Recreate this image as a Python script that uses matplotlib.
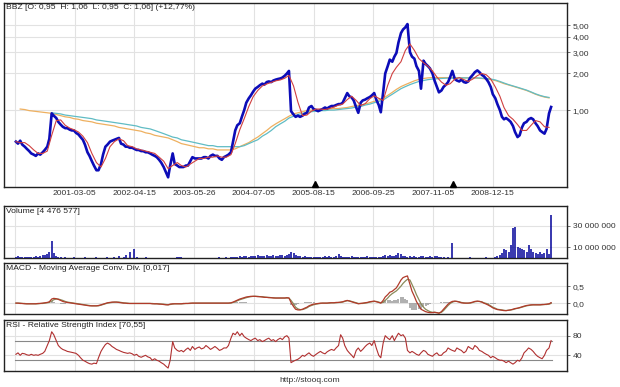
import numpy as np
import pandas as pd
import matplotlib
matplotlib.use("Agg")
import matplotlib.pyplot as plt
import matplotlib.dates as mdates
from matplotlib.ticker import FixedLocator, NullLocator

plt.rcParams['font.family'] = ['Liberation Sans', 'DejaVu Sans']

# ---------------- data ----------------
# semi-monthly sampling 2000-02-01 .. 2010-01-15 (240 points)
price = [
    # 2000 (Feb..Dec)
    0.55, 0.53, 0.56, 0.52, 0.50, 0.48, 0.46, 0.44, 0.43, 0.42, 0.44, 0.43, 0.45, 0.47, 0.50, 0.58,
    0.94, 0.90, 0.86, 0.80, 0.76, 0.73,
    # 2001
    0.71, 0.71, 0.69, 0.68, 0.68, 0.65, 0.63, 0.60, 0.57, 0.52, 0.45, 0.42,
    0.38, 0.35, 0.32, 0.32, 0.36, 0.43, 0.50, 0.52, 0.55, 0.56, 0.57, 0.58,
    # 2002
    0.59, 0.53, 0.52, 0.50, 0.50, 0.49, 0.49, 0.48, 0.47, 0.47, 0.46, 0.46,
    0.45, 0.45, 0.44, 0.43, 0.42, 0.41, 0.39, 0.37, 0.34, 0.31, 0.28, 0.35,
    # 2003
    0.44, 0.36, 0.35, 0.34, 0.34, 0.34, 0.35, 0.35, 0.38, 0.41, 0.40, 0.40,
    0.40, 0.40, 0.41, 0.41, 0.40, 0.42, 0.43, 0.42, 0.42, 0.40, 0.39, 0.41,
    # 2004
    0.42, 0.43, 0.45, 0.55, 0.68, 0.75, 0.78, 0.88, 1.00, 1.15, 1.25, 1.32,
    1.42, 1.50, 1.55, 1.60, 1.65, 1.62, 1.70, 1.72, 1.70, 1.75, 1.78, 1.80,
    # 2005
    1.82, 1.85, 1.92, 2.00, 2.10, 0.98, 0.92, 0.88, 0.90, 0.88, 0.90, 0.93,
    0.95, 1.05, 1.08, 1.02, 1.00, 0.98, 1.00, 1.02, 1.05, 1.03, 1.06, 1.08,
    # 2006
    1.08, 1.10, 1.12, 1.12, 1.15, 1.25, 1.38, 1.30, 1.27, 1.20, 1.05, 0.95,
    1.15, 1.20, 1.22, 1.25, 1.28, 1.32, 1.38, 1.22, 1.10, 0.96, 1.40, 2.00,
    # 2007
    2.30, 2.60, 2.50, 2.75, 2.95, 3.60, 4.30, 4.60, 4.80, 5.10, 3.00, 2.75,
    2.65, 2.30, 2.10, 1.50, 2.55, 2.40, 2.30, 2.20, 2.00, 1.75, 1.55, 1.40,
    # 2008
    1.45, 1.55, 1.62, 1.70, 1.88, 2.10, 1.80, 1.75, 1.72, 1.78, 1.70, 1.68,
    1.72, 1.85, 1.95, 2.05, 2.12, 2.05, 1.95, 1.90, 1.80, 1.70, 1.55, 1.35,
    # 2009
    1.25, 1.12, 1.00, 0.88, 0.84, 0.86, 0.83, 0.80, 0.74, 0.66, 0.60, 0.62,
    0.72, 0.78, 0.80, 0.84, 0.86, 0.84, 0.78, 0.74, 0.68, 0.66, 0.64, 0.70,
    # 2010
    0.94, 1.06,
]

volume_m = [
    1, 1.5, 1, 1, 1.2, 1, 0.8, 1, 1, 1.5, 1, 2, 2.5, 3, 4, 6, 16, 5, 2, 1, 0.5, 0.3,
    0.5, 0, 0.3, 0, 0.5, 0, 0.3, 0, 0, 0.5, 0, 0.3, 0, 0, 0.5, 0, 0, 0, 0, 0.5, 0, 0, 1, 0,
    2, 0, 1, 3, 0, 6, 0, 8, 1, 0, 0, 0, 0.5, 0, 0, 0, 0, 0, 0, 0, 0, 0, 0, 0,
    0, 0, 0.5, 1, 0.5, 0, 0, 0, 0, 0, 0, 0, 0, 0, 0.3, 0, 0, 0, 0, 0, 0, 0.5, 0, 0,
    0.5, 0, 1, 0.5, 1, 0.5, 2, 1, 1.5, 2, 1, 2, 1.5, 2, 3, 2, 1.5, 2, 2.5, 2, 1.5, 3, 2, 2,
    2.5, 3, 2, 3, 4, 6, 5, 3, 2, 1.5, 1, 1.5, 1, 1, 0.5, 1, 1, 1, 1, 1, 1.5, 1, 1.5, 1,
    1, 1.5, 4, 2, 1, 1, 0.5, 1, 1.5, 1, 0.5, 1, 0.5, 1, 1, 1.5, 1, 0.5, 1, 1, 0.5, 1, 2, 3,
    2, 3, 2, 1.5, 3, 5, 4, 2, 1.5, 1, 2, 1, 1.5, 1, 1, 1.5, 2, 1, 1, 1.5, 1, 2, 1.5, 1,
    1, 0.5, 0, 1, 0, 14, 0, 0, 0, 0, 0, 0, 0, 0.5, 0, 0, 0, 0, 0, 0, 0.5, 0, 0, 0,
    1, 2, 3, 5, 8, 7, 6, 12, 28, 29, 10, 9, 8, 7, 6, 12, 8, 6, 5, 4, 6, 4, 5, 8,
    4, 40,
]

macd_line = [
    0, 0, -0.01, -0.01, -0.02, -0.02, -0.02, -0.02, -0.02, -0.02, -0.01, -0.01, 0, 0.01, 0.02, 0.04,
    0.12, 0.14, 0.13, 0.11, 0.08, 0.05,
    0.03, 0.02, 0.01, 0, -0.01, -0.02, -0.03, -0.04, -0.05, -0.06, -0.07, -0.08,
    -0.08, -0.08, -0.08, -0.07, -0.05, -0.03, -0.01, 0.01, 0.02, 0.03, 0.03, 0.03,
    0.02, 0.01, 0, 0, -0.01, -0.01, -0.01, -0.01, -0.01, -0.01, -0.01, -0.01,
    -0.01, -0.01, -0.01, -0.02, -0.02, -0.02, -0.03, -0.03, -0.04, -0.05, -0.05, -0.03,
    -0.02, -0.02, -0.02, -0.02, -0.02, -0.01, -0.01, -0.01, 0, 0, 0, 0,
    0, 0, 0, 0, 0, 0, 0, 0, 0, 0, 0, 0,
    0, 0, 0.01, 0.03, 0.06, 0.09, 0.12, 0.14, 0.16, 0.18, 0.19, 0.20,
    0.20, 0.20, 0.19, 0.19, 0.18, 0.17, 0.17, 0.16, 0.16, 0.15, 0.15, 0.15,
    0.15, 0.15, 0.15, 0.16, 0.15, 0.02, -0.10, -0.18, -0.20, -0.20, -0.18, -0.15,
    -0.12, -0.08, -0.05, -0.03, -0.02, -0.01, 0, 0, 0, 0, 0.01, 0.01,
    0.01, 0.02, 0.02, 0.03, 0.04, 0.06, 0.08, 0.06, 0.04, 0.02, 0, -0.02,
    -0.01, 0, 0.01, 0.02, 0.04, 0.05, 0.06, 0.04, 0.02, 0, 0.08, 0.18,
    0.25, 0.32, 0.35, 0.40, 0.45, 0.55, 0.68, 0.75, 0.78, 0.80, 0.55, 0.35,
    0.20, 0.05, -0.08, -0.18, -0.22, -0.25, -0.27, -0.28, -0.28, -0.27, -0.28, -0.30,
    -0.25, -0.18, -0.10, -0.03, 0.02, 0.05, 0.06, 0.05, 0.03, 0.01, 0, 0,
    0, 0.01, 0.03, 0.05, 0.06, 0.05, 0.03, 0, -0.03, -0.06, -0.10, -0.14,
    -0.17, -0.19, -0.20, -0.21, -0.22, -0.22, -0.21, -0.20, -0.18, -0.16, -0.15, -0.13,
    -0.11, -0.09, -0.07, -0.06, -0.05, -0.05, -0.05, -0.05, -0.05, -0.04, -0.04, -0.03,
    -0.02, 0.01,
]

signal_line = [
    0, 0, 0, -0.01, -0.01, -0.02, -0.02, -0.02, -0.02, -0.02, -0.02, -0.01, -0.01, 0, 0.01, 0.02,
    0.06, 0.10, 0.12, 0.12, 0.10, 0.08,
    0.05, 0.03, 0.02, 0.01, 0, -0.01, -0.02, -0.03, -0.04, -0.05, -0.06, -0.07,
    -0.08, -0.08, -0.08, -0.08, -0.06, -0.04, -0.02, 0, 0.01, 0.02, 0.03, 0.03,
    0.03, 0.02, 0.01, 0, 0, -0.01, -0.01, -0.01, -0.01, -0.01, -0.01, -0.01,
    -0.01, -0.01, -0.01, -0.01, -0.02, -0.02, -0.02, -0.03, -0.03, -0.04, -0.05, -0.04,
    -0.03, -0.02, -0.02, -0.02, -0.02, -0.02, -0.01, -0.01, -0.01, 0, 0, 0,
    0, 0, 0, 0, 0, 0, 0, 0, 0, 0, 0, 0,
    0, 0, 0, 0.02, 0.04, 0.07, 0.10, 0.12, 0.14, 0.16, 0.18, 0.19,
    0.20, 0.20, 0.20, 0.19, 0.19, 0.18, 0.17, 0.17, 0.16, 0.16, 0.15, 0.15,
    0.15, 0.15, 0.15, 0.15, 0.15, 0.08, -0.02, -0.12, -0.17, -0.19, -0.19, -0.17,
    -0.14, -0.10, -0.07, -0.05, -0.03, -0.02, -0.01, 0, 0, 0, 0, 0.01,
    0.01, 0.01, 0.02, 0.02, 0.03, 0.05, 0.07, 0.07, 0.05, 0.03, 0.01, -0.01,
    -0.01, -0.01, 0, 0.01, 0.03, 0.04, 0.05, 0.05, 0.03, 0.01, 0.02, 0.08,
    0.15, 0.22, 0.28, 0.32, 0.36, 0.42, 0.50, 0.58, 0.65, 0.70, 0.68, 0.55,
    0.40, 0.25, 0.10, -0.02, -0.12, -0.18, -0.22, -0.25, -0.27, -0.27, -0.28, -0.29,
    -0.27, -0.22, -0.14, -0.07, -0.01, 0.03, 0.05, 0.05, 0.04, 0.02, 0.01, 0,
    0, 0, 0.02, 0.04, 0.05, 0.05, 0.04, 0.01, -0.01, -0.04, -0.08, -0.12,
    -0.15, -0.18, -0.19, -0.20, -0.21, -0.22, -0.21, -0.20, -0.19, -0.17, -0.15, -0.14,
    -0.12, -0.10, -0.08, -0.07, -0.06, -0.05, -0.05, -0.05, -0.05, -0.05, -0.04, -0.04,
    -0.03, -0.01,
]

rsi = [
    42, 45, 40, 44, 43, 41, 40, 42, 40, 41, 40, 42, 44, 48, 60, 70, 88, 82, 70, 60, 55, 52,
    50, 48, 47, 46, 45, 44, 40, 35, 30, 28, 25, 23, 22, 24, 23, 35, 48, 55, 62, 65, 62, 58, 55, 52,
    50, 48, 46, 45, 44, 45, 43, 40, 42, 38, 36, 38, 40, 37, 35, 30, 33, 30, 28, 25, 22, 18, 14, 30,
    68, 55, 50, 48, 50, 47, 52, 55, 50, 58, 52, 55, 57, 53, 55, 60, 56, 52, 55, 58, 54, 50, 52, 55,
    55, 60, 75, 85, 82, 88, 80, 85, 78, 75, 72, 70, 73, 75, 70, 72, 68, 70, 73, 75, 70, 72, 68, 72,
    75, 72, 78, 80, 75, 25, 28, 30, 32, 35, 40, 38, 42, 45, 40, 38, 42, 45, 48, 45, 43, 47, 50, 52,
    50, 55, 60, 82, 75, 60, 50, 45, 40, 35, 50, 55, 48, 52, 58, 62, 65, 60, 70, 55, 40, 35, 65, 80,
    75, 72, 80, 70, 78, 85, 80, 82, 75, 50, 45, 48, 45, 42, 40, 45, 50, 48, 42, 40, 38, 42, 45, 40,
    40, 45, 48, 55, 52, 50, 48, 55, 52, 50, 45, 48, 58, 55, 52, 60, 56, 50, 48, 45, 42, 40, 35, 38,
    35, 32, 30, 30, 28, 25, 28, 25, 22, 25, 30, 28, 35, 45, 50, 55, 52, 48, 42, 38, 35, 33, 40, 50,
    55, 70,
]

# monthly sampling 2000-02-01 .. 2010-01-01 (120 points)
ma_short = [
    0.55, 0.54, 0.54, 0.51, 0.47, 0.44, 0.44, 0.46, 0.62, 0.82, 0.83,
    0.75, 0.71, 0.69, 0.66, 0.61, 0.54, 0.44, 0.37, 0.34, 0.40, 0.50, 0.55,
    0.58, 0.56, 0.51, 0.50, 0.48, 0.47, 0.46, 0.45, 0.44, 0.41, 0.38, 0.33,
    0.35, 0.37, 0.35, 0.34, 0.36, 0.38, 0.40, 0.40, 0.41, 0.41, 0.42, 0.41,
    0.41, 0.43, 0.53, 0.69, 0.85, 1.07, 1.29, 1.45, 1.58, 1.64, 1.69, 1.74,
    1.77, 1.83, 1.93, 1.58, 1.16, 0.90, 0.91, 0.98, 1.02, 1.02, 1.01, 1.03,
    1.06, 1.10, 1.12, 1.22, 1.30, 1.20, 1.09, 1.13, 1.24, 1.31, 1.25, 1.20,
    1.60, 2.00, 2.25, 2.50, 3.10, 3.50, 3.10, 2.65, 2.45, 2.30, 2.10, 1.87,
    1.70, 1.60, 1.65, 1.80, 1.85, 1.78, 1.72, 1.80, 1.92, 2.00, 1.95, 1.80,
    1.55, 1.30, 1.05, 0.90, 0.84, 0.76, 0.68, 0.68, 0.75, 0.82, 0.80, 0.73,
    0.72,
]

ma_long_a = [  # orange
    np.nan, 1.02, 1.01, 0.99, 0.98, 0.97, 0.96, 0.95, 0.94, 0.92, 0.90,
    0.88, 0.87, 0.85, 0.84, 0.82, 0.81, 0.80, 0.78, 0.77, 0.76, 0.75, 0.74,
    0.72, 0.71, 0.70, 0.69, 0.68, 0.67, 0.65, 0.64, 0.62, 0.61, 0.60, 0.59,
    0.57, 0.55, 0.53, 0.52, 0.51, 0.50, 0.49, 0.49, 0.48, 0.48, 0.47, 0.47,
    0.47, 0.47, 0.48, 0.50, 0.52, 0.54, 0.57, 0.60, 0.64, 0.68, 0.73, 0.77,
    0.81, 0.85, 0.89, 0.93, 0.95, 0.97, 0.99, 1.00, 1.00, 1.01, 1.01, 1.02,
    1.03, 1.03, 1.04, 1.05, 1.07, 1.09, 1.10, 1.12, 1.15, 1.18, 1.21, 1.25,
    1.32, 1.40, 1.48, 1.56, 1.62, 1.68, 1.74, 1.79, 1.82, 1.84, 1.85, 1.85,
    1.85, 1.85, 1.85, 1.85, 1.85, 1.84, 1.84, 1.84, 1.83, 1.82, 1.80, 1.78,
    1.75, 1.70, 1.65, 1.61, 1.57, 1.53, 1.49, 1.45, 1.40, 1.35, 1.31, 1.28,
    1.26,
]

ma_long_b = [  # teal
    np.nan, np.nan, np.nan, np.nan, np.nan, np.nan, np.nan, np.nan, 0.95, 0.94, 0.93,
    0.91, 0.90, 0.89, 0.88, 0.87, 0.86, 0.85, 0.83, 0.82, 0.81, 0.80, 0.79,
    0.78, 0.77, 0.76, 0.75, 0.74, 0.72, 0.71, 0.70, 0.68, 0.66, 0.64, 0.62,
    0.60, 0.59, 0.57, 0.56, 0.55, 0.54, 0.53, 0.52, 0.51, 0.51, 0.50, 0.50,
    0.50, 0.50, 0.50, 0.50, 0.51, 0.53, 0.55, 0.57, 0.61, 0.64, 0.68, 0.73,
    0.77, 0.81, 0.86, 0.89, 0.92, 0.94, 0.96, 0.97, 0.98, 0.99, 0.99, 1.00,
    1.00, 1.01, 1.02, 1.03, 1.04, 1.06, 1.07, 1.10, 1.12, 1.15, 1.18, 1.21,
    1.28, 1.35, 1.42, 1.50, 1.56, 1.62, 1.67, 1.72, 1.75, 1.78, 1.80, 1.81,
    1.82, 1.83, 1.83, 1.83, 1.84, 1.84, 1.84, 1.84, 1.84, 1.83, 1.82, 1.80,
    1.77, 1.72, 1.67, 1.62, 1.58, 1.54, 1.50, 1.46, 1.41, 1.36, 1.32, 1.29,
    1.27,
]

tick_dates = ['2000-01-24', '2001-03-05', '2002-04-15', '2003-05-26', '2004-07-05',
              '2005-08-15', '2006-09-25', '2007-11-05', '2008-12-15']
tick_labels = ['', '2001-03-05', '2002-04-15', '2003-05-26', '2004-07-05',
               '2005-08-15', '2006-09-25', '2007-11-05', '2008-12-15']
event_dates = ['2005-08-24', '2008-03-20']

title_main = "BBZ [O: 0,95  H: 1,06  L: 0,95  C: 1,06] (+12,77%)"
title_vol = "Volume [4 476 577]"
title_macd = "MACD - Moving Average Conv. Div. [0,017]"
title_rsi = "RSI - Relative Strength Index [70,55]"

# ---------------- build ----------------
d_semi = pd.date_range('2000-02-01', '2010-01-15', freq='SMS')
d_month = pd.date_range('2000-02-01', '2010-01-01', freq='MS')
price = np.array(price)
volume = np.array(volume_m) * 1e6
macd_line = np.array(macd_line)
signal_line = np.array(signal_line)
hist = macd_line - signal_line

ticks = pd.to_datetime(tick_dates)
xlim = (pd.Timestamp('1999-11-12'), pd.Timestamp('2010-05-03'))

W, H = 620, 387
fig = plt.figure(figsize=(W / 100, H / 100), dpi=100)
fig.patch.set_facecolor('white')

def box(x0, y0, x1, y1):
    return [x0 / W, 1 - y1 / H, (x1 - x0) / W, (y1 - y0) / H]

ax = fig.add_axes(box(4, 3, 567, 187))
axv = fig.add_axes(box(4, 206, 567, 258))
axm = fig.add_axes(box(4, 263, 567, 314))
axr = fig.add_axes(box(4, 320, 567, 371))

FS = 6.1
GRID = '#e2e2e2'
for a in (ax, axv, axm, axr):
    a.set_xlim(*xlim)
    a.set_facecolor('white')
    for s in a.spines.values():
        s.set_color('#222222')
        s.set_linewidth(1.0)
    a.yaxis.tick_right()
    a.tick_params(axis='y', which='both', direction='out', length=2.5, width=0.6,
                  colors='#555555', labelsize=FS, labelcolor='#333333', pad=1.5)
    a.xaxis.set_major_locator(FixedLocator(mdates.date2num(ticks)))
    a.tick_params(axis='x', which='both', length=0, labelsize=FS, labelcolor='#333333', pad=2)
    a.grid(True, color=GRID, linewidth=0.8)
    a.set_axisbelow(True)
    a.set_xticklabels([])

ax.set_xticklabels(tick_labels)

# price panel
ax.set_yscale('log')
ax.set_ylim(0.233, 7.6)
ax.yaxis.set_major_locator(FixedLocator([1, 2, 3, 4, 5]))
ax.yaxis.set_minor_locator(NullLocator())
ax.set_yticklabels(['1,00', '2,00', '3,00', '4,00', '5,00'])
ax.plot(d_month, ma_long_a, color='#eeb060', lw=0.9, zorder=2)
ax.plot(d_month, ma_long_b, color='#60bcc4', lw=0.9, zorder=2)
ax.plot(d_semi, price, color='#0c0cb8', lw=1.9, zorder=3)
ax.plot(d_month, ma_short, color='#d04040', lw=0.8, zorder=4)
ev = pd.to_datetime(event_dates)
ax.plot(ev, [0.245] * len(ev), linestyle='none', marker='^', color='black', markersize=4.5,
        zorder=5, clip_on=False)
ax.text(0.004, 0.995, title_main, transform=ax.transAxes, ha='left', va='top', fontsize=FS,
        color='#222222')

# volume
axv.set_ylim(0, 48e6)
axv.yaxis.set_major_locator(FixedLocator([10e6, 30e6]))
axv.set_yticklabels(['10 000 000', '30 000 000'])
axv.vlines(d_semi, 0, volume, color='#000099', lw=1.1, zorder=3)
axv.text(0.004, 0.97, title_vol, transform=axv.transAxes, ha='left', va='top', fontsize=FS,
         color='#222222')

# MACD
axm.set_ylim(-0.32, 1.18)
axm.yaxis.set_major_locator(FixedLocator([0, 0.5]))
axm.set_yticklabels(['0,0', '0,5'])
axm.vlines(d_semi, 0, hist, color='#999999', lw=1.1, zorder=2)
axm.plot(d_semi, signal_line, color='#8a8a5a', lw=0.9, zorder=3)
axm.plot(d_semi, macd_line, color='#b03a2a', lw=0.9, zorder=4)
axm.text(0.004, 0.97, title_macd, transform=axm.transAxes, ha='left', va='top', fontsize=FS,
         color='#222222')

# RSI
axr.set_ylim(8, 112)
axr.yaxis.set_major_locator(FixedLocator([40, 80]))
axr.set_yticklabels(['40', '80'])
axr.axhline(70, color='#888888', lw=0.8, zorder=2, xmin=0.02, xmax=0.973)
axr.axhline(30, color='#888888', lw=0.8, zorder=2, xmin=0.02, xmax=0.973)
axr.plot(d_semi, rsi, color='#b03030', lw=0.8, zorder=3)
axr.text(0.004, 0.97, title_rsi, transform=axr.transAxes, ha='left', va='top', fontsize=FS,
         color='#222222')

fig.text(310 / W, 1 - 381 / H, 'http://stooq.com', ha='center', va='center', fontsize=FS,
         color='#333333')

fig.savefig('out.png', dpi=100, facecolor='white')
